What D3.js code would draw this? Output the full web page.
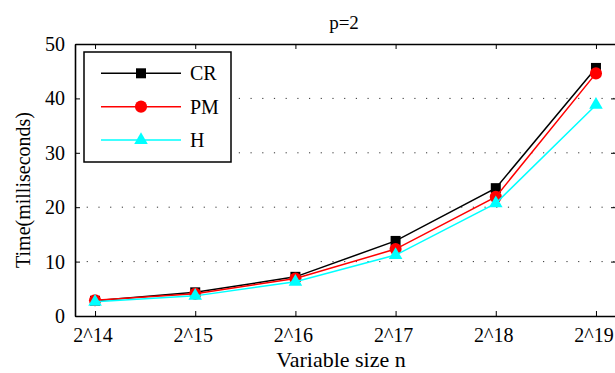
<!DOCTYPE html>
<html>
<head>
<meta charset="utf-8">
<script src="https://cdn.jsdelivr.net/npm/d3@7"></script>
<style>
  html, body { margin: 0; padding: 0; background: #fff; }
  svg { display: block; }
  svg text { font-family: "Liberation Serif", "Times New Roman", Times, serif !important; }
</style>
</head>
<body>
<svg id="chart" width="615" height="373"></svg>
<script>
// Problem size exponents (n = 2^k) and tick labels
const exponents = [14, 15, 16, 17, 18, 19];
const xTickLabels = ["2^14", "2^15", "2^16", "2^17", "2^18", "2^19"];
const yTicks = [0, 10, 20, 30, 40, 50];

// Running time in milliseconds for each method
const seriesNames = ["CR", "PM", "H"];
const crTimes = [2.8, 4.35, 7.2, 13.8, 23.5, 45.6];
const pmTimes = [2.9, 4.1, 6.9, 12.3, 21.9, 44.6];
const hTimes  = [2.6, 3.7, 6.3, 11.2, 20.7, 38.8];
const seriesColors = ["#000000", "#ff0000", "#00ffff"];

const serif = "Liberation Serif, Times New Roman, serif";

const series = [
  { name: seriesNames[0], values: crTimes, color: seriesColors[0], symbol: d3.symbolSquare, size: 100 },
  { name: seriesNames[1], values: pmTimes, color: seriesColors[1], symbol: d3.symbolCircle, size: 115 },
  { name: seriesNames[2], values: hTimes,  color: seriesColors[2], symbol: d3.symbolTriangle, size: 80 }
];

const svg = d3.select("#chart");
const plot = { left: 75, right: 616, top: 44, bottom: 316 };

const x = d3.scaleLinear().domain([13.8, 19.2]).range([plot.left, plot.right]);
const y = d3.scaleLinear().domain([0, 50]).range([plot.bottom, plot.top]);

// Dotted horizontal grid
svg.append("g")
  .selectAll("line")
  .data(yTicks.filter(d => d > 0 && d < 50))
  .join("line")
  .attr("x1", plot.left).attr("x2", plot.right)
  .attr("y1", d => y(d)).attr("y2", d => y(d))
  .attr("stroke", "#333")
  .attr("stroke-width", 1)
  .attr("stroke-dasharray", "1.2,10.5");

// Axes with inward ticks on all four sides
const fontSize = 20;
const bottomAxis = d3.axisBottom(x).tickValues(exponents)
  .tickFormat((d, i) => xTickLabels[i]).tickSizeInner(-5).tickSizeOuter(0).tickPadding(12);
const topAxis = d3.axisTop(x).tickValues(exponents).tickFormat("").tickSizeInner(-5).tickSizeOuter(0);
const leftAxis = d3.axisLeft(y).tickValues(yTicks).tickFormat(d3.format("d"))
  .tickSizeInner(-5).tickSizeOuter(0).tickPadding(10);
const rightAxis = d3.axisRight(y).tickValues(yTicks).tickFormat("").tickSizeInner(-5).tickSizeOuter(0);

function styleAxis(g) {
  g.attr("font-family", serif).attr("font-size", fontSize);
  g.select(".domain").attr("stroke", "#000").attr("stroke-width", 1.6);
  g.selectAll(".tick line").attr("stroke", "#000").attr("stroke-width", 1);
  g.selectAll(".tick text").attr("fill", "#000");
}

svg.append("g").attr("transform", `translate(0,${plot.bottom})`).call(bottomAxis).call(styleAxis)
  .selectAll(".tick text").attr("dx", -2.5);
svg.append("g").attr("transform", `translate(0,${plot.top})`).call(topAxis).call(styleAxis);
svg.append("g").attr("transform", `translate(${plot.left},0)`).call(leftAxis).call(styleAxis);
svg.append("g").attr("transform", `translate(${plot.right},0)`).call(rightAxis).call(styleAxis);

// Series lines and markers
const line = d3.line().x((d, i) => x(exponents[i])).y(d => y(d));

series.forEach(s => {
  const g = svg.append("g");
  g.append("path")
    .datum(s.values)
    .attr("d", line)
    .attr("fill", "none")
    .attr("stroke", s.color)
    .attr("stroke-width", 1.5);
  g.selectAll("path.marker")
    .data(s.values)
    .join("path")
    .attr("class", "marker")
    .attr("d", d3.symbol().type(s.symbol).size(s.size))
    .attr("transform", (d, i) => `translate(${x(exponents[i])},${y(d)})`)
    .attr("fill", s.color);
});

// Legend
const legend = svg.append("g");
legend.append("rect")
  .attr("x", 84).attr("y", 52).attr("width", 147).attr("height", 110)
  .attr("fill", "#fff").attr("stroke", "#000").attr("stroke-width", 1.5);

const rowY = d3.scalePoint().domain(seriesNames).range([73.3, 140]);
series.forEach(s => {
  const ry = rowY(s.name);
  legend.append("line")
    .attr("x1", 101).attr("x2", 181).attr("y1", ry).attr("y2", ry)
    .attr("stroke", s.color).attr("stroke-width", 1.5);
  legend.append("path")
    .attr("d", d3.symbol().type(s.symbol).size(s.size))
    .attr("transform", `translate(141,${ry})`)
    .attr("fill", s.color);
  legend.append("text")
    .attr("x", 190).attr("y", ry)
    .attr("dy", "0.35em")
    .attr("font-family", serif)
    .attr("font-size", 20)
    .text(s.name);
});

// Title and axis labels
svg.append("text")
  .attr("x", 344).attr("y", 29)
  .attr("text-anchor", "middle")
  .attr("font-family", serif)
  .attr("font-size", 19)
  .text("p=2");

svg.append("text")
  .attr("x", 341).attr("y", 367)
  .attr("text-anchor", "middle")
  .attr("font-family", serif)
  .attr("font-size", 22)
  .text("Variable size n");

svg.append("text")
  .attr("transform", "translate(30,190) rotate(-90)")
  .attr("text-anchor", "middle")
  .attr("font-family", serif)
  .attr("font-size", 20)
  .text("Time(milliseconds)");
</script>
</body>
</html>
